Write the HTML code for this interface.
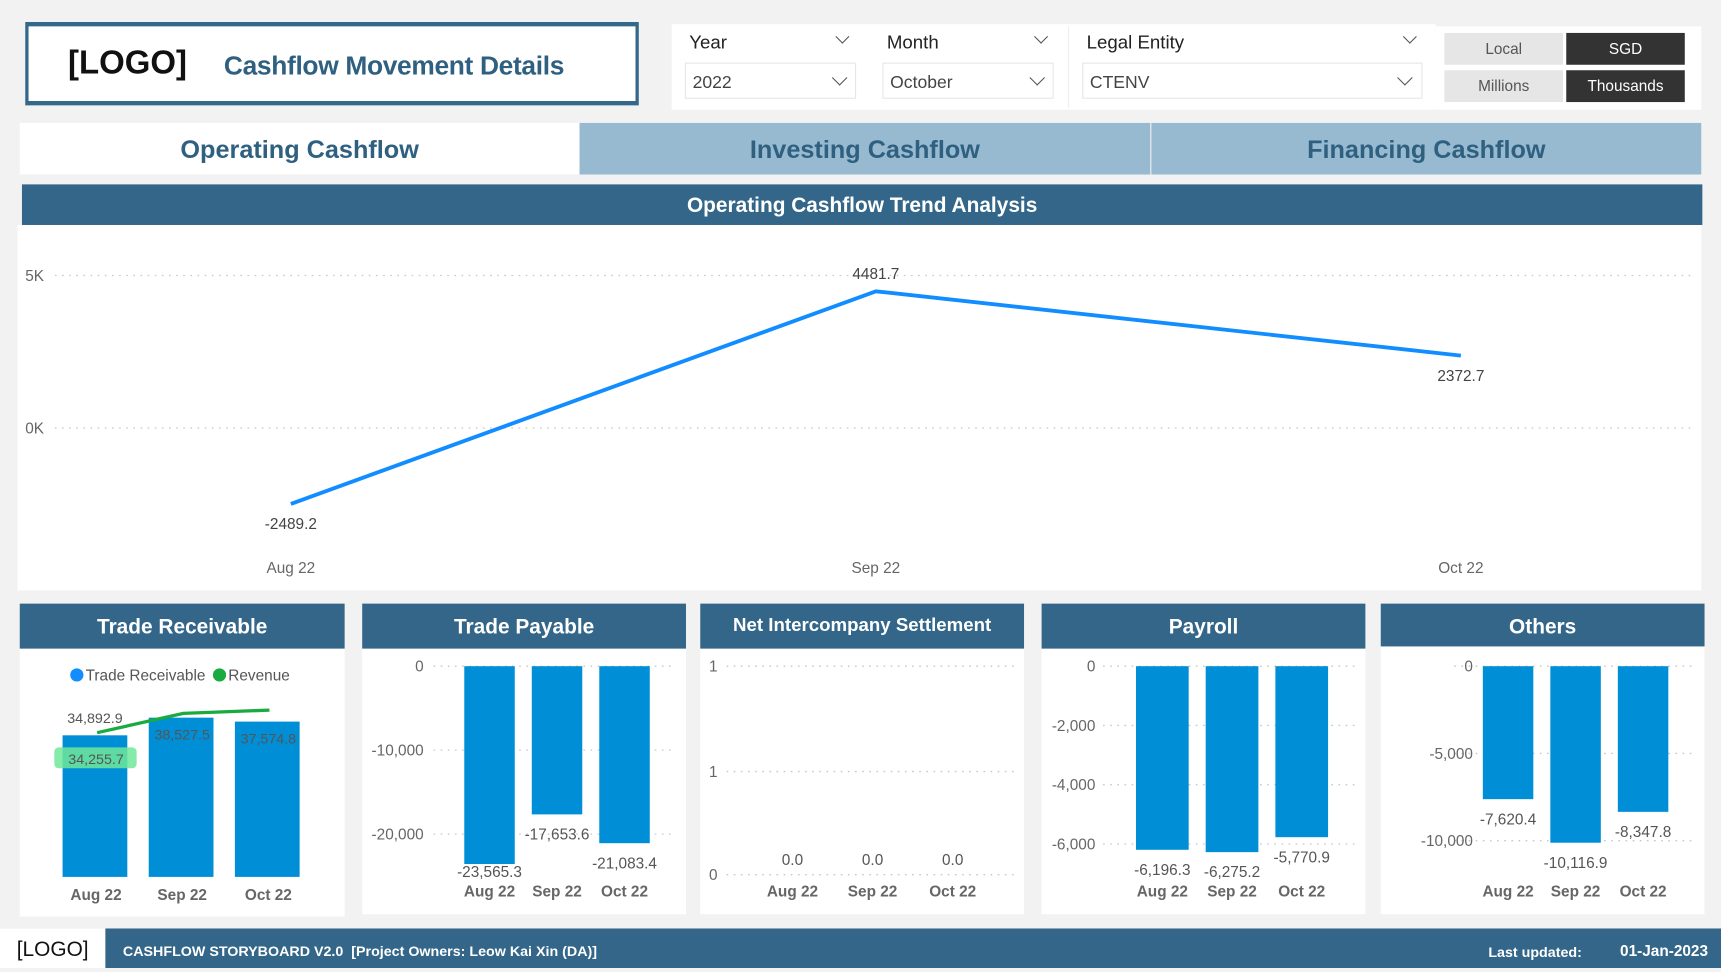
<!DOCTYPE html>
<html><head><meta charset="utf-8">
<style>
html,body{margin:0;padding:0;width:1721px;height:968px;overflow:hidden;background:#f2f2f2;font-family:"Liberation Sans",sans-serif}
#root{position:absolute;left:0;top:0;width:1568px;height:882px;transform:scale(1.09758,1.0975);transform-origin:0 0;background:#f2f2f2}
.a{position:absolute;box-sizing:border-box}
.hd{background:#336688;color:#fff;font-weight:bold;text-align:center}
.dd{background:#fff;border:1px solid #e6e6e6;font-size:16px;color:#444;padding:9px 0 0 6px}
.chev{position:absolute;width:9px;height:9px;border-right:1.5px solid #555;border-bottom:1.5px solid #555;transform:rotate(45deg)}
.btn{font-size:14px;text-align:center;line-height:29px}
svg text{font-family:"Liberation Sans",sans-serif}
</style></head><body>
<div id="root">
 <div class="a" style="left:23px;top:20px;width:559px;height:76px;background:#fff;border:3px solid #34688a;border-top-width:4px;border-bottom-width:4px">
  <span class="a" style="left:36px;top:17px;font-size:30px;font-weight:bold;color:#111">[LOGO]</span>
  <span class="a" style="left:178px;top:23px;font-size:24px;font-weight:bold;color:#2f6080;letter-spacing:-0.3px">Cashflow Movement Details</span>
 </div>
 <div class="a" style="left:612px;top:22px;width:696px;height:78px;background:#fff"></div>
 <div class="a" style="left:973px;top:24px;width:1px;height:74px;background:#eee"></div>
 <span class="a" style="left:628px;top:29px;font-size:17px;color:#222">Year</span>
 <div class="a chev" style="left:763px;top:29px"></div>
 <div class="a dd" style="left:624px;top:57px;width:156px;height:33px">2022<div class="chev" style="left:135px;top:8px"></div></div>
 <span class="a" style="left:808px;top:29px;font-size:17px;color:#222">Month</span>
 <div class="a chev" style="left:944px;top:29px"></div>
 <div class="a dd" style="left:804px;top:57px;width:156px;height:33px">October<div class="chev" style="left:135px;top:8px"></div></div>
 <span class="a" style="left:990px;top:29px;font-size:17px;color:#222">Legal Entity</span>
 <div class="a chev" style="left:1280px;top:29px"></div>
 <div class="a dd" style="left:986px;top:57px;width:310px;height:33px">CTENV<div class="chev" style="left:288px;top:8px"></div></div>
 <div class="a" style="left:1308px;top:24px;width:242px;height:76px;background:#fff"></div>
 <div class="a btn" style="left:1316px;top:30px;width:108px;height:29px;background:#e6e6e6;color:#555">Local</div>
 <div class="a btn" style="left:1427px;top:30px;width:108px;height:29px;background:#333;color:#fff">SGD</div>
 <div class="a btn" style="left:1316px;top:64px;width:108px;height:29px;background:#e6e6e6;color:#555">Millions</div>
 <div class="a btn" style="left:1427px;top:64px;width:108px;height:29px;background:#333;color:#fff">Thousands</div>

 <div class="a" style="left:18px;top:112px;width:510px;height:47px;background:#fff;color:#2f6080;font-weight:bold;font-size:23px;text-align:center;line-height:49px">Operating Cashflow</div>
 <div class="a" style="left:528px;top:112px;width:520px;height:47px;background:#98bad1;color:#2f6080;font-weight:bold;font-size:23px;text-align:center;line-height:49px">Investing Cashflow</div>
 <div class="a" style="left:1049px;top:112px;width:501px;height:47px;background:#98bad1;color:#2f6080;font-weight:bold;font-size:23px;text-align:center;line-height:49px">Financing Cashflow</div>

 <div class="a hd" style="left:20px;top:168px;width:1531px;height:37px;font-size:19px;line-height:40px">Operating Cashflow Trend Analysis</div>
 <div class="a" style="left:16px;top:205px;width:1534px;height:333px;background:#fff"></div>

 <div class="a" style="left:18px;top:550px;width:296px;height:285px;background:#fff"></div>
 <div class="a hd" style="left:18px;top:550px;width:296px;height:41px;font-size:19px;line-height:44px">Trade Receivable</div>
 <div class="a" style="left:330px;top:550px;width:295px;height:283px;background:#fff"></div>
 <div class="a hd" style="left:330px;top:550px;width:295px;height:41px;font-size:19px;line-height:44px">Trade Payable</div>
 <div class="a" style="left:638px;top:550px;width:295px;height:283px;background:#fff"></div>
 <div class="a hd" style="left:638px;top:550px;width:295px;height:41px;font-size:17px;line-height:40px">Net Intercompany Settlement</div>
 <div class="a" style="left:949px;top:550px;width:295px;height:283px;background:#fff"></div>
 <div class="a hd" style="left:949px;top:550px;width:295px;height:41px;font-size:19px;line-height:44px">Payroll</div>
 <div class="a" style="left:1258px;top:550px;width:295px;height:283px;background:#fff"></div>
 <div class="a hd" style="left:1258px;top:550px;width:295px;height:39px;font-size:19px;line-height:44px">Others</div>

 <div class="a" style="left:0;top:846px;width:1568px;height:36px;background:#336688"></div>
 <div class="a" style="left:0;top:846px;width:96px;height:36px;background:#fff;font-size:19px;color:#111;text-align:center;line-height:40px">[LOGO]</div>
 <span class="a" style="left:112px;top:859px;font-size:13px;font-weight:bold;color:#fff;white-space:pre">CASHFLOW STORYBOARD V2.0  [Project Owners: Leow Kai Xin (DA)]</span>
 <span class="a" style="left:1356px;top:860px;font-size:13px;font-weight:bold;color:#fff">Last updated:</span>
 <span class="a" style="left:1476px;top:858px;font-size:14px;font-weight:bold;color:#fff">01-Jan-2023</span>

 <svg id="charts" class="a" style="left:0;top:0" width="1568" height="882"></svg>
</div>
<script>
const months = ["Aug 22","Sep 22","Oct 22"];
const trendValues = [-2489.2, 4481.7, 2372.7];
const trendTicks = [0, 5000];
const trendTickLabels = ["0K","5K"];
const trValues = [34255.7, 38527.5, 37574.8];
const revValues = [34892.9, 39560, 40360];
const tpValues = [-23565.3, -17653.6, -21083.4];
const tpTicks = [0, -10000, -20000];
const nisValues = [0, 0, 0];
const nisTickLabels = ["1","1","0"];
const payValues = [-6196.3, -6275.2, -5770.9];
const payTicks = [0, -2000, -4000, -6000];
const othValues = [-7620.4, -10116.9, -8347.8];
const othTicks = [0, -5000, -10000];

const NS = "http://www.w3.org/2000/svg";
const svg = document.getElementById("charts");
function mk(tag, attrs, txt){const e=document.createElementNS(NS,tag);for(const k in attrs)e.setAttribute(k,attrs[k]);if(txt!==undefined)e.textContent=txt;svg.appendChild(e);return e;}
function fmt(v){return v.toLocaleString("en-US",{minimumFractionDigits:1,maximumFractionDigits:1});}
function fmtTick(v){return v.toLocaleString("en-US");}
function grid(x1,x2,y){const l=mk("line",{x1:x1,x2:x2,y1:y,y2:y,stroke:"#c8c8c8","stroke-width":1.2,"stroke-dasharray":"1.5 5"});

}

// Trend line chart
const tx = i => 265 + i*533;
const ty = v => 390 - v*139/5000;
trendTicks.forEach((t,i)=>{grid(50,1545,ty(t));
 const e=mk("text",{x:23,y:ty(t)+5,"font-size":14,fill:"#666"},trendTickLabels[i]);
 
 });
const pl=mk("polyline",{points:trendValues.map((v,i)=>tx(i)+","+ty(v)).join(" "),fill:"none",stroke:"#118dff","stroke-width":3.5});


trendValues.forEach((v,i)=>{
 const ly = i===1 ? ty(v)-11 : ty(v)+23;
 const e=mk("text",{x:tx(i),y:ly,"text-anchor":"middle","font-size":14,fill:"#444"},v.toFixed(1));
 
 
 const m=mk("text",{x:tx(i),y:522,"text-anchor":"middle","font-size":14,fill:"#666"},months[i]);
 
 
});

// Trade receivable
const trX = i => 86.5 + i*78.5;
const trY = v => 799 - v*0.003766;
let lg=mk("circle",{cx:70,cy:615,r:6,fill:"#118dff"});


lg=mk("text",{x:78,y:620,"font-size":14,fill:"#555"},"Trade Receivable");


lg=mk("circle",{cx:200,cy:615,r:6,fill:"#1aab40"});


lg=mk("text",{x:208,y:620,"font-size":14,fill:"#555"},"Revenue");


trValues.forEach((v,i)=>{
 const b=mk("rect",{x:trX(i)-29.5,y:trY(v),width:59,height:799-trY(v),fill:"#008fd6"});
 
 
 if(i===0){const h=mk("rect",{x:trX(i)-37,y:trY(v)+11,width:75,height:19,rx:4,fill:"#6ee79a","fill-opacity":0.85});
  
  }
 const t=mk("text",{x:trX(i)+1,y:trY(v)+(i?20:26),"text-anchor":"middle","font-size":13,fill:"#555"},fmt(v));
 
 
 const m=mk("text",{x:trX(i)+1,y:820,"text-anchor":"middle","font-size":14,"font-weight":"bold",fill:"#666"},months[i]);
 
 
});
const rl=mk("polyline",{points:revValues.map((v,i)=>(trX(i)+2)+","+trY(v)).join(" "),fill:"none",stroke:"#1aab40","stroke-width":3});


const rvl=mk("text",{x:trX(0),y:trY(revValues[0])-9,"text-anchor":"middle","font-size":13,fill:"#555"},fmt(revValues[0]));



// Negative bar panels
function negPanel(name, vals, ticks, x0, step, w, pxPer1000, axisX, gx1, gx2, xlabY){
 const y = v => 607 - v*pxPer1000/1000;
 ticks.forEach(t=>{grid(gx1,gx2,y(t));
  const e=mk("text",{x:axisX,y:y(t)+5,"text-anchor":"end","font-size":14,fill:"#666"},fmtTick(t));
  
  });
 vals.forEach((v,i)=>{const cx=x0+i*step;
  const b=mk("rect",{x:cx-w/2,y:607,width:w,height:y(v)-607,fill:"#008fd6"});
  
  
  const t=mk("text",{x:cx,y:Math.min(y(v)+23,799),"text-anchor":"middle","font-size":14,fill:"#555"},fmt(v));
  
  
  const m=mk("text",{x:cx,y:xlabY,"text-anchor":"middle","font-size":14,"font-weight":"bold",fill:"#666"},months[i]);
  
  
 });
}
negPanel("trade-payable", tpValues, tpTicks, 446, 61.5, 46, 7.65, 386, 395, 615, 817);
negPanel("payroll", payValues, payTicks, 1059, 63.5, 48, 27, 998, 1005, 1235, 817);
negPanel("others", othValues, othTicks, 1374, 61.5, 46, 15.9, 1342, 1325, 1545, 817);

// NIS
const nisY = [607, 703, 797];
nisTickLabels.forEach((l,i)=>{grid(662,925,nisY[i]);
 const e=mk("text",{x:646,y:nisY[i]+5,"font-size":14,fill:"#666"},l);
 
 });
nisValues.forEach((v,i)=>{const cx=722+i*73;
 const t=mk("text",{x:cx,y:788-v*96,"text-anchor":"middle","font-size":14,fill:"#555"},fmt(v));
 
 
 const m=mk("text",{x:cx,y:817,"text-anchor":"middle","font-size":14,"font-weight":"bold",fill:"#666"},months[i]);
 
 
});
</script>
</body></html>
